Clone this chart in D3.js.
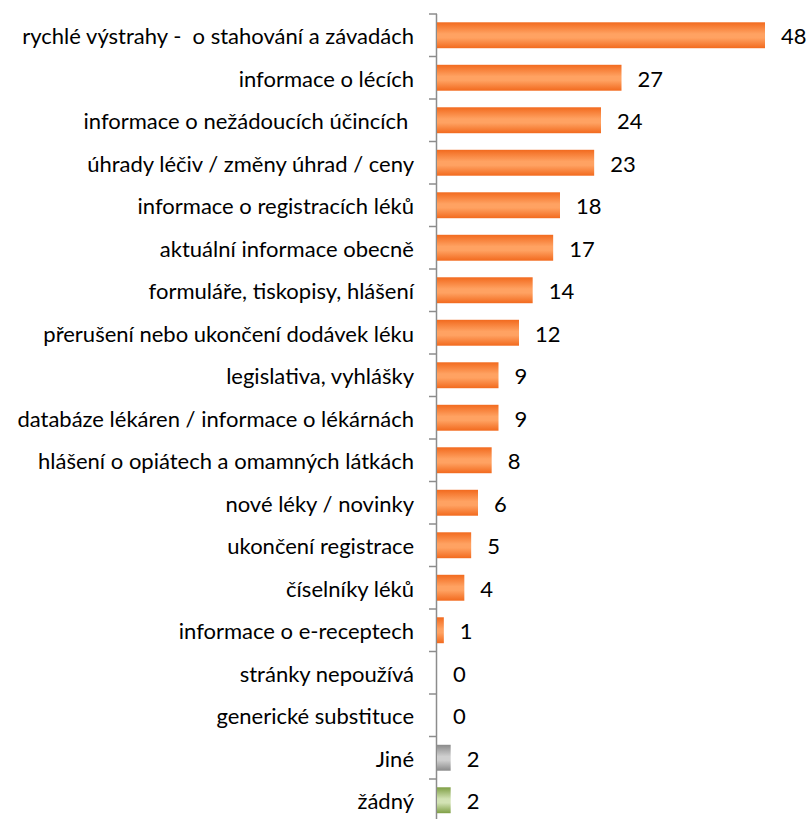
<!DOCTYPE html>
<html>
<head>
	<meta charset="utf-8">
	<script src="https://cdn.jsdelivr.net/npm/d3@7/dist/d3.min.js"></script>
	<title>Zdroje informací</title>
	<style type="text/css">
		body { margin: 0; background: #fff; }
		text { font-family: Lato, "Open Sans", sans-serif; fill: #000; white-space: pre; }
	</style>
</head>
<body>
	<script>
		var categories = [
			'rychlé výstrahy -  o stahování a závadách',
			'informace o lécích',
			'informace o nežádoucích účincích ',
			'úhrady léčiv / změny úhrad / ceny',
			'informace o registracích léků',
			'aktuální informace obecně',
			'formuláře, tiskopisy, hlášení',
			'přerušení nebo ukončení dodávek léku',
			'legislativa, vyhlášky',
			'databáze lékáren / informace o lékárnách',
			'hlášení o opiátech a omamných látkách',
			'nové léky / novinky',
			'ukončení registrace',
			'číselníky léků',
			'informace o e-receptech',
			'stránky nepoužívá',
			'generické substituce',
			'Jiné',
			'žádný'
		];
		var values = [48, 27, 24, 23, 18, 17, 14, 12, 9, 9, 8, 6, 5, 4, 1, 0, 0, 2, 2];
		var groups = ['main', 'main', 'main', 'main', 'main', 'main', 'main', 'main', 'main', 'main',
			'main', 'main', 'main', 'main', 'main', 'main', 'main', 'other', 'none'];

		var svgWidth = 809;
		var svgHeight = 819;
		var axisX = 437;
		var topY = 14;
		var step = 42.5;

		var svg = d3.select('body')
			.append('svg')
			.attr('width', svgWidth)
			.attr('height', svgHeight);

		// gradients - dark edges, light middle
		var gradColors = {
			main: ['#f26a1e', '#ffa262'],
			other: ['#8a8a8a', '#cfcfcf'],
			none: ['#7f9f45', '#d2e2b4']
		};
		var defs = svg.append('defs');
		Object.keys(gradColors).forEach(function (k) {
			var g = defs.append('linearGradient')
				.attr('id', 'grad-' + k)
				.attr('x1', 0).attr('y1', 0).attr('x2', 0).attr('y2', 1);
			g.append('stop').attr('offset', '0%').attr('stop-color', gradColors[k][0]);
			g.append('stop').attr('offset', '45%').attr('stop-color', gradColors[k][1]);
			g.append('stop').attr('offset', '60%').attr('stop-color', gradColors[k][1]);
			g.append('stop').attr('offset', '100%').attr('stop-color', gradColors[k][0]);
		});

		var xScale = d3.scaleLinear()
			.domain([0, 48])
			.range([axisX, 765]);

		var yScale = d3.scaleBand()
			.domain(categories)
			.range([topY, topY + step * categories.length])
			.paddingInner(0.39)
			.paddingOuter(0.195);

		// axis line + ticks between categories
		svg.append('line')
			.attr('x1', axisX - 0.5).attr('x2', axisX - 0.5)
			.attr('y1', topY).attr('y2', svgHeight)
			.attr('stroke', '#8c8c8c').attr('stroke-width', 1.5);

		svg.selectAll('.tick')
			.data(d3.range(categories.length + 1))
			.enter()
			.append('line')
			.attr('class', 'tick')
			.attr('x1', axisX - 8).attr('x2', axisX)
			.attr('y1', function (i) { return topY + i * yScale.step(); })
			.attr('y2', function (i) { return topY + i * yScale.step(); })
			.attr('stroke', '#8c8c8c').attr('stroke-width', 1.5);

		var data = categories.map(function (c, i) {
			return { cat: c, value: values[i], group: groups[i] };
		});

		svg.selectAll('rect.bar')
			.data(data)
			.enter()
			.append('rect')
			.attr('class', 'bar')
			.attr('x', axisX)
			.attr('y', function (d) { return yScale(d.cat); })
			.attr('width', function (d) { return xScale(d.value) - axisX; })
			.attr('height', yScale.bandwidth())
			.attr('fill', function (d) { return 'url(#grad-' + d.group + ')'; });

		// category labels
		svg.selectAll('text.cat')
			.data(data)
			.enter()
			.append('text')
			.attr('class', 'cat')
			.attr('x', 414)
			.attr('y', function (d) { return yScale(d.cat) + yScale.bandwidth() / 2; })
			.attr('dy', '0.42em')
			.attr('text-anchor', 'end')
			.style('font-size', '22px')
			.text(function (d) { return d.cat; });

		// value labels
		svg.selectAll('text.val')
			.data(data)
			.enter()
			.append('text')
			.attr('class', 'val')
			.attr('x', function (d) { return xScale(d.value) + 16; })
			.attr('y', function (d) { return yScale(d.cat) + yScale.bandwidth() / 2; })
			.attr('dy', '0.42em')
			.style('font-size', '22px')
			.text(function (d) { return d.value; });
	</script>
</body>
</html>
